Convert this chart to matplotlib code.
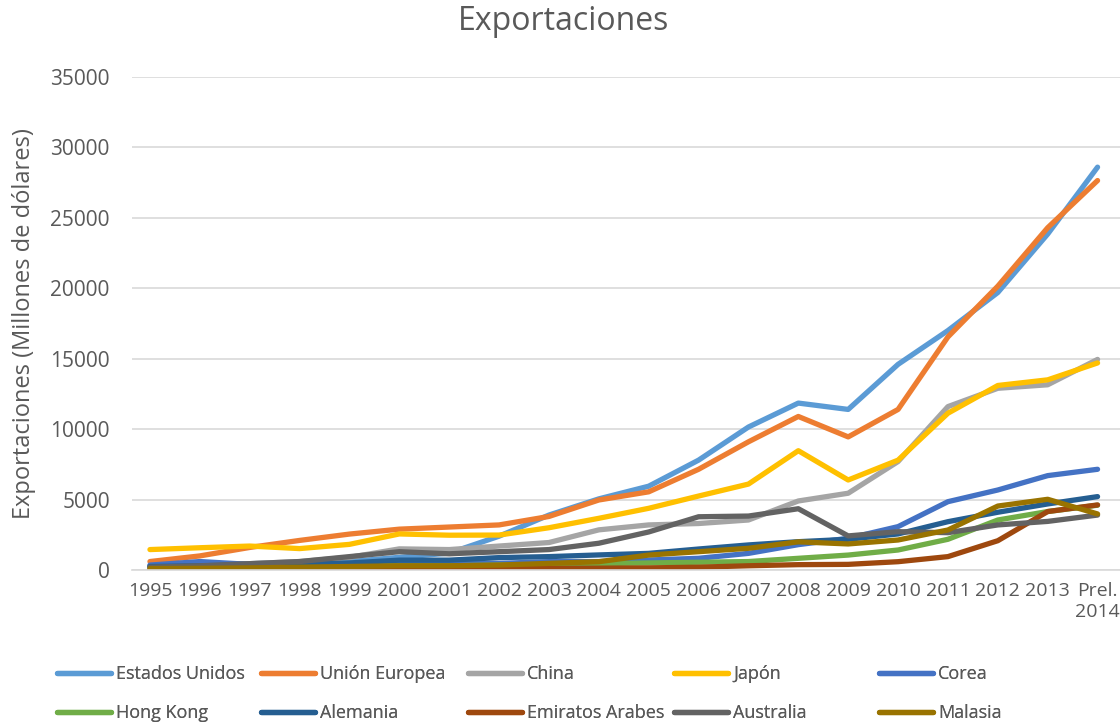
import matplotlib
matplotlib.use('Agg')
import matplotlib.pyplot as plt

# Data (millones de dólares)
years = ['1995', '1996', '1997', '1998', '1999', '2000', '2001', '2002', '2003', '2004',
         '2005', '2006', '2007', '2008', '2009', '2010', '2011', '2012', '2013', 'Prel.\n2014']

estados_unidos = [300, 400, 450, 500, 600, 900, 1200, 2400, 3900, 5050,
                  5950, 7800, 10150, 11850, 11400, 14600, 17000, 19700, 23850, 28600]
union_europea = [600, 1000, 1600, 2100, 2550, 2900, 3050, 3200, 3800, 4970,
                 5550, 7150, 9100, 10900, 9450, 11400, 16550, 20150, 24300, 27650]
china = [250, 350, 450, 600, 900, 1500, 1450, 1700, 1950, 2850,
         3200, 3300, 3550, 4900, 5450, 7700, 11600, 12900, 13150, 14950]
japon = [1450, 1580, 1700, 1520, 1820, 2560, 2470, 2480, 3000, 3670,
         4380, 5250, 6100, 8470, 6390, 7800, 11130, 13100, 13500, 14700]
corea = [350, 600, 400, 350, 400, 550, 500, 470, 590, 600,
         710, 830, 1180, 1800, 2250, 3080, 4850, 5680, 6700, 7150]
hong_kong = [200, 250, 250, 250, 280, 300, 300, 350, 370, 450,
             500, 550, 600, 830, 1060, 1420, 2180, 3550, 4150, 4600]
alemania = [250, 300, 350, 400, 500, 700, 700, 880, 950, 1070,
            1180, 1490, 1780, 2010, 2180, 2560, 3430, 4100, 4690, 5210]
emiratos = [30, 40, 50, 50, 60, 80, 90, 100, 120, 130,
            150, 200, 300, 380, 400, 590, 950, 2080, 4150, 4620]
australia = [200, 300, 450, 600, 950, 1300, 1150, 1300, 1450, 1900,
             2700, 3780, 3830, 4350, 2420, 2720, 2650, 3200, 3450, 3900]
malasia = [100, 120, 150, 200, 250, 300, 300, 350, 470, 590,
           1060, 1300, 1540, 2000, 1850, 2130, 2840, 4540, 5020, 3980]

series_names = ['Estados Unidos', 'Unión Europea', 'China', 'Japón', 'Corea',
                'Hong Kong', 'Alemania', 'Emiratos Arabes', 'Australia', 'Malasia']
series_values = [estados_unidos, union_europea, china, japon, corea,
                 hong_kong, alemania, emiratos, australia, malasia]
series_colors = ['#5B9BD5', '#ED7D31', '#A5A5A5', '#FFC000', '#4472C4',
                 '#70AD47', '#255E91', '#9E480E', '#636363', '#997300']

TEXT_COLOR = '#595959'
GRID_COLOR = '#D9D9D9'


def create_chart():
    """Draw the export lines chart in the Excel style"""
    plt.rcParams['font.family'] = ['Open Sans', 'DejaVu Sans']

    fig = plt.figure(figsize=(11.2, 7.26), dpi=100)
    ax = fig.add_axes([132 / 1120, 1 - 570 / 726, (1120 - 132) / 1120, (570 - 77) / 726])

    x = list(range(len(years)))
    handles = []
    for name, values, color in zip(series_names, series_values, series_colors):
        line, = ax.plot(x, values, color=color, linewidth=3.8, label=name,
                        solid_capstyle='round', solid_joinstyle='round')
        handles.append(line)

    ax.set_xlim(-0.36, 19.45)
    ax.set_ylim(0, 35000)
    ax.set_yticks(range(0, 35001, 5000))
    ax.set_xticks(x)
    ax.set_xticklabels(years)

    # Gridlines and axis
    ax.yaxis.grid(True, color=GRID_COLOR, linewidth=1.2)
    ax.set_axisbelow(True)
    for side in ['top', 'right', 'left']:
        ax.spines[side].set_visible(False)
    ax.spines['bottom'].set_color(GRID_COLOR)
    ax.spines['bottom'].set_linewidth(1.2)

    ax.tick_params(axis='y', length=0, pad=16, labelsize=15, labelcolor=TEXT_COLOR)
    ax.tick_params(axis='x', length=0, pad=9, labelsize=14, labelcolor=TEXT_COLOR)

    ax.set_ylabel('Exportaciones (Millones de dólares)', fontsize=17, color=TEXT_COLOR, labelpad=10)
    fig.text(564 / 1120, 1 - 22 / 726, 'Exportaciones', fontsize=23,
             color=TEXT_COLOR, ha='center', va='center')

    # Legend: five fixed-width columns, two rows
    col_x = [57, 261, 468, 674, 879]
    for i, cx in enumerate(col_x):
        leg = fig.legend([handles[i], handles[i + 5]], [series_names[i], series_names[i + 5]],
                         loc='center left', bbox_to_anchor=(cx / 1120, 1 - 693.5 / 726),
                         frameon=False, fontsize=13, handlelength=3.0, handletextpad=0.28,
                         borderpad=0, borderaxespad=0, labelspacing=1.15)
        for txt in leg.get_texts():
            txt.set_color(TEXT_COLOR)
        fig.add_artist(leg)

    fig.savefig('out.png', dpi=100)
    print("Chart saved to out.png")


def main():
    create_chart()


if __name__ == "__main__":
    main()
